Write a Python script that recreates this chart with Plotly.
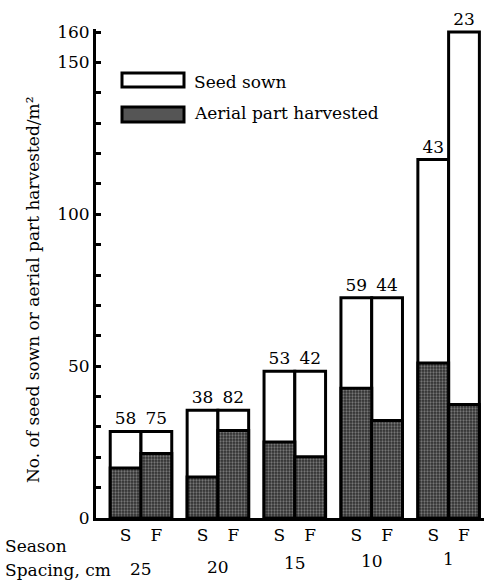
import plotly.graph_objects as go

# ---- data ----
spacing = ["25", "20", "15", "10", "1"]
season = ["S", "F"]
sown_S = [28.5, 35.5, 48.3, 72.5, 118]
sown_F = [28.5, 35.5, 48.3, 72.5, 160]
harv_S = [16.5, 13.5, 25.0, 42.7, 51.0]
harv_F = [21.2, 28.8, 20.2, 32.1, 37.4]
pct_S = [58, 38, 53, 59, 43]
pct_F = [75, 82, 42, 44, 23]
y_tickvals = [0, 50, 100, 150, 160]

# ---- layout geometry (pixels) ----
W, H = 484, 584
L, R, T, B = 96, 0, 29, 66
PW, PH = W - L - R, H - T - B
FONT = "DejaVu Serif"
FS = 17


def px_x(px):
    return (px - L) / PW


def px_y(py):
    return (H - B - py) / PH


# bar positions: group index +/- 0.2
xs, sown, harv, pct, tick_x, tick_t = [], [], [], [], [], []
for i in range(len(spacing)):
    for j, s in enumerate(season):
        x = i + (-0.2 if j == 0 else 0.2)
        xs.append(x)
        sown.append(sown_S[i] if j == 0 else sown_F[i])
        harv.append(harv_S[i] if j == 0 else harv_F[i])
        pct.append(pct_S[i] if j == 0 else pct_F[i])
        tick_x.append(x)
        tick_t.append(s)

fig = go.Figure()
fig.add_trace(go.Bar(
    x=xs, y=sown, width=0.4,
    marker=dict(color="white", line=dict(color="black", width=3)),
    text=[str(p) for p in pct], textposition="outside",
    textfont=dict(family=FONT, size=FS, color="black"),
    cliponaxis=False, showlegend=False, name="Seed sown",
))
fig.add_trace(go.Bar(
    x=xs, y=harv, width=0.4,
    marker=dict(color="#3a3a3a", line=dict(color="black", width=3),
                pattern=dict(shape=".", bgcolor="#2e2e2e", fgcolor="#bdbdbd",
                             size=3, solidity=0.45, fillmode="overlay")),
    cliponaxis=False, showlegend=False, name="Aerial part harvested",
))

fig.update_layout(
    width=W, height=H,
    margin=dict(l=L, r=R, t=T, b=B, pad=0),
    barmode="overlay",
    plot_bgcolor="white", paper_bgcolor="white",
    font=dict(family=FONT, size=FS, color="black"),
    showlegend=False,
    xaxis=dict(
        range=[-0.585, 4.46], tickvals=tick_x, ticktext=tick_t,
        showline=True, linecolor="black", linewidth=3,
        showgrid=False, zeroline=False, ticks="", ticklen=0,
        tickfont=dict(family=FONT, size=FS),
    ),
    yaxis=dict(
        range=[0, 161], tickvals=y_tickvals,
        showline=True, linecolor="black", linewidth=3,
        showgrid=False, zeroline=False,
        ticks="inside", ticklen=5, tickwidth=3, tickcolor="black",
        minor=dict(dtick=10, ticks="inside", ticklen=5, tickwidth=3, tickcolor="black"),
        tickfont=dict(family=FONT, size=FS),
    ),
)

# y-axis title
fig.add_annotation(
    x=px_x(33), y=px_y(290), xref="paper", yref="paper",
    text="No. of seed sown or aerial part harvested/m²", textangle=-90,
    showarrow=False, font=dict(family=FONT, size=FS),
    xanchor="center", yanchor="middle",
)

# legend (drawn)
fig.add_shape(type="rect", xref="paper", yref="paper",
              x0=px_x(122), x1=px_x(184), y0=px_y(87), y1=px_y(73),
              line=dict(color="black", width=3), fillcolor="white")
fig.add_shape(type="rect", xref="paper", yref="paper",
              x0=px_x(122), x1=px_x(184), y0=px_y(122), y1=px_y(107),
              line=dict(color="black", width=3), fillcolor="#555555")
fig.add_annotation(x=px_x(192), y=px_y(82), xref="paper", yref="paper",
                   text="Seed sown", showarrow=False, xanchor="left", yanchor="middle",
                   font=dict(family=FONT, size=FS))
fig.add_annotation(x=px_x(192), y=px_y(113), xref="paper", yref="paper",
                   text="Aerial part harvested", showarrow=False, xanchor="left",
                   yanchor="middle", font=dict(family=FONT, size=FS))

# row labels below axis
fig.add_annotation(x=px_x(3), y=px_y(546), xref="paper", yref="paper",
                   text="Season", showarrow=False, xanchor="left", yanchor="middle",
                   font=dict(family=FONT, size=FS))
fig.add_annotation(x=px_x(3), y=px_y(570), xref="paper", yref="paper",
                   text="Spacing, cm", showarrow=False, xanchor="left", yanchor="middle",
                   font=dict(family=FONT, size=FS))
sp_y = [569, 567, 563, 561, 559]
for i, s in enumerate(spacing):
    fig.add_annotation(x=i, y=px_y(sp_y[i]), xref="x", yref="paper",
                       text=s, showarrow=False, xanchor="center", yanchor="middle",
                       font=dict(family=FONT, size=FS))

fig.write_html("out.html")
